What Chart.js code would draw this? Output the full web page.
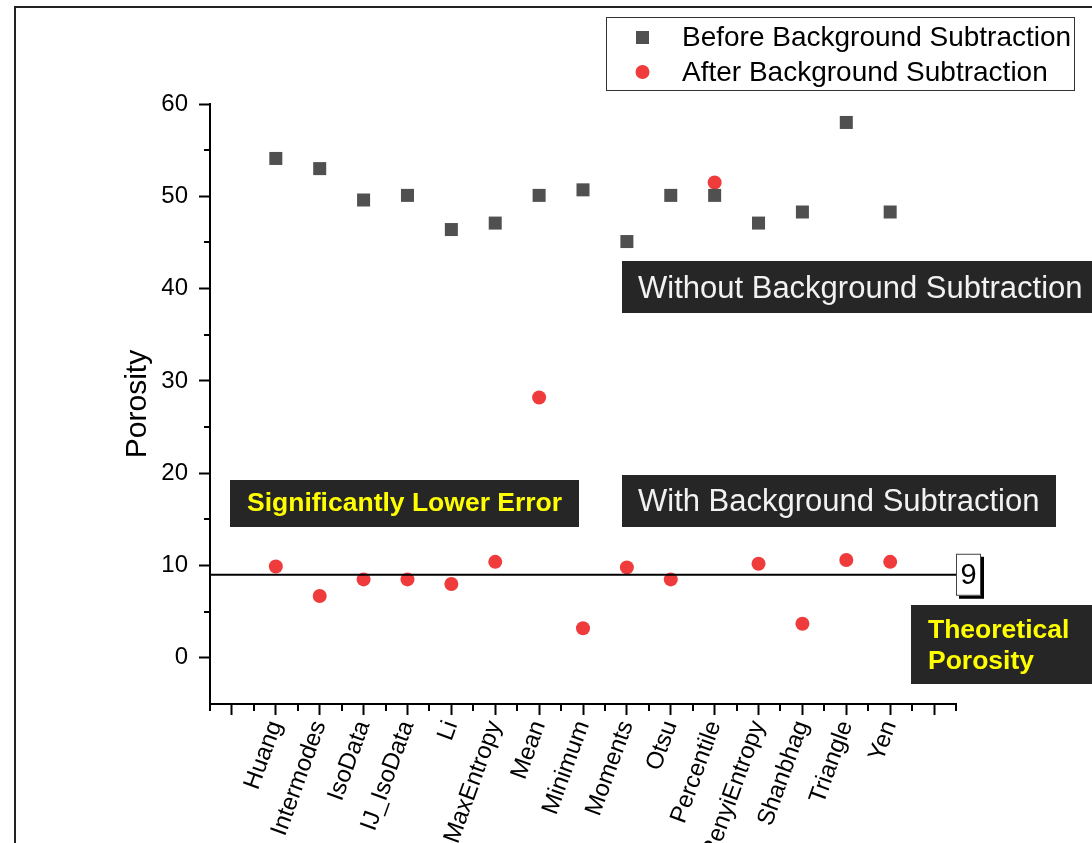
<!DOCTYPE html>
<html>
<head>
<meta charset="utf-8">
<script src="https://cdn.jsdelivr.net/npm/chart.js@4.4.1/dist/chart.umd.min.js"></script>
<style>
  body { margin: 0; background: #fff; }
  canvas { display: block; }
</style>
</head>
<body>
<canvas id="grafico" width="1092" height="843"></canvas>
<script>
const categories = ['Huang', 'Intermodes', 'IsoData', 'IJ_IsoData', 'Li', 'MaxEntropy', 'Mean', 'Minimum',
  'Moments', 'Otsu', 'Percentile', 'RenyiEntropy', 'Shanbhag', 'Triangle', 'Yen'];
const beforeValues = [54.1, 53.0, 49.6, 50.1, 46.4, 47.1, 50.1, 50.7, 45.1, 50.1, 50.1, 47.1, 48.3, 58.0, 48.3];
const afterValues = [9.9, 6.7, 8.5, 8.5, 8.0, 10.4, 28.2, 3.2, 9.8, 8.5, 51.5, 10.2, 3.7, 10.6, 10.4];
const theoretical = 9;
const yTicks = [0, 10, 20, 30, 40, 50, 60];
const yMinorTicks = [5, 15, 25, 35, 45, 55];
const xTicks = [0, 1, 2, 3, 4, 5, 6, 7, 8, 9, 10, 11, 12, 13, 14, 15, 16];
const xMinorTicks = [-0.5, 0.5, 1.5, 2.5, 3.5, 4.5, 5.5, 6.5, 7.5, 8.5, 9.5, 10.5, 11.5, 12.5, 13.5, 14.5, 15.5, 16.5];

const FONT = '"Liberation Sans", Arial, sans-serif';
const GRIS = '#505050';
const ROJO = '#ef3b3b';

const puntos = (values) => values.map((v, i) => ({ x: i + 1, y: v }));

// minor ticks, frame, legend and text boxes
const extras = {
  id: 'extras',
  beforeDraw(chart) {
    const ctx = chart.ctx;
    ctx.save();
    ctx.fillStyle = '#fff';
    ctx.fillRect(0, 0, chart.width, chart.height);
    ctx.restore();
  },
  afterDatasetsDraw(chart) {
    const ctx = chart.ctx;
    const x = chart.scales.x;
    const y = chart.scales.y;
    const area = chart.chartArea;
    ctx.save();

    ctx.strokeStyle = '#000';
    ctx.lineWidth = 2;
    yMinorTicks.forEach(v => {
      const py = Math.round(y.getPixelForValue(v));
      ctx.beginPath();
      ctx.moveTo(area.left - 6, py);
      ctx.lineTo(area.left, py);
      ctx.stroke();
    });
    xMinorTicks.forEach(v => {
      const px = Math.round(x.getPixelForValue(v));
      ctx.beginPath();
      ctx.moveTo(px, area.bottom);
      ctx.lineTo(px, area.bottom + 7);
      ctx.stroke();
    });

    // label box for theoretical line
    const ty = y.getPixelForValue(theoretical);
    ctx.fillStyle = '#000';
    ctx.fillRect(area.right + 3, ty - 18, 25, 42);
    ctx.fillStyle = '#fff';
    ctx.fillRect(area.right, ty - 21, 25, 42);
    ctx.strokeStyle = '#444';
    ctx.lineWidth = 1;
    ctx.strokeRect(area.right + 0.5, ty - 20.5, 24, 41);
    ctx.fillStyle = '#000';
    ctx.font = '29px ' + FONT;
    ctx.textAlign = 'center';
    ctx.textBaseline = 'middle';
    ctx.fillText(String(theoretical), area.right + 12.5, ty + 1);

    const caja = (bx, by, bw, bh) => {
      ctx.fillStyle = '#262626';
      ctx.fillRect(bx, by, bw, bh);
    };
    ctx.textAlign = 'left';
    caja(622, 261, 480, 52);
    ctx.fillStyle = '#f2f2f2';
    ctx.font = '31px ' + FONT;
    ctx.fillText('Without Background Subtraction', 638, 289);
    caja(622, 475, 434, 52);
    ctx.fillStyle = '#f2f2f2';
    ctx.fillText('With Background Subtraction', 638, 502);

    caja(230, 480, 349, 47);
    ctx.fillStyle = '#ffff00';
    ctx.font = 'bold 26.5px ' + FONT;
    ctx.fillText('Significantly Lower Error', 247, 504);
    caja(911, 605, 190, 79);
    ctx.fillStyle = '#ffff00';
    ctx.fillText('Theoretical', 928, 631);
    ctx.fillText('Porosity', 928, 662);

    // legend
    ctx.fillStyle = '#fff';
    ctx.fillRect(606, 17, 469, 74);
    ctx.strokeStyle = '#333';
    ctx.lineWidth = 1;
    ctx.strokeRect(606.5, 17.5, 468, 73);
    ctx.fillStyle = GRIS;
    ctx.fillRect(636, 31, 13, 13);
    ctx.fillStyle = ROJO;
    ctx.beginPath();
    ctx.arc(642.5, 72, 7, 0, Math.PI * 2);
    ctx.fill();
    ctx.fillStyle = '#000';
    ctx.font = '28px ' + FONT;
    ctx.fillText('Before Background Subtraction', 682, 38);
    ctx.fillText('After Background Subtraction', 682, 73);

    // outer frame
    ctx.strokeStyle = '#222';
    ctx.lineWidth = 2;
    ctx.strokeRect(15, 7, 1200, 1000);
    ctx.restore();
  }
};

const config = {
  type: 'scatter',
  data: {
    datasets: [
      {
        label: 'Theoretical',
        data: [{ x: -0.5, y: theoretical }, { x: 16.5, y: theoretical }],
        showLine: true,
        borderColor: '#000',
        borderWidth: 2,
        pointRadius: 0
      },
      {
        label: 'Before Background Subtraction',
        data: puntos(beforeValues),
        pointStyle: 'rect',
        pointRadius: 9.2,
        pointBorderWidth: 0,
        backgroundColor: GRIS,
        borderColor: GRIS
      },
      {
        label: 'After Background Subtraction',
        data: puntos(afterValues),
        pointStyle: 'circle',
        pointRadius: 7,
        pointBorderWidth: 0,
        backgroundColor: ROJO,
        borderColor: ROJO
      }
    ]
  },
  options: {
    responsive: false,
    animation: false,
    events: [],
    devicePixelRatio: 1,
    layout: { padding: { left: 110, top: 104, right: 136, bottom: 0 } },
    plugins: {
      legend: { display: false },
      tooltip: { enabled: false }
    },
    scales: {
      x: {
        type: 'linear',
        min: -0.5,
        max: 16.5,
        afterBuildTicks: (scale) => { scale.ticks = xTicks.map(v => ({ value: v })); },
        afterFit: (scale) => { scale.height = 139; },
        grid: { drawOnChartArea: false, drawTicks: true, tickLength: 11, tickWidth: 2, tickColor: '#000' },
        border: { color: '#000', width: 2 },
        ticks: {
          autoSkip: false,
          minRotation: 70,
          maxRotation: 70,
          padding: 2,
          color: '#000',
          font: { family: FONT, size: 24 },
          callback: (value) => categories[value - 1] || ''
        }
      },
      y: {
        type: 'linear',
        min: -5,
        max: 60,
        afterBuildTicks: (scale) => { scale.ticks = yTicks.map(v => ({ value: v })); },
        afterFit: (scale) => { scale.width = 100; },
        grid: { drawOnChartArea: false, drawTicks: true, tickLength: 11, tickWidth: 2, tickColor: '#000' },
        border: { color: '#000', width: 2 },
        ticks: {
          padding: 11,
          color: '#000',
          font: { family: FONT, size: 24 }
        },
        title: {
          display: true,
          text: 'Porosity',
          color: '#000',
          padding: { top: 10, bottom: 0 },
          font: { family: FONT, size: 30 }
        }
      }
    }
  },
  plugins: [extras]
};

new Chart(document.getElementById('grafico').getContext('2d'), config);
</script>
</body>
</html>
